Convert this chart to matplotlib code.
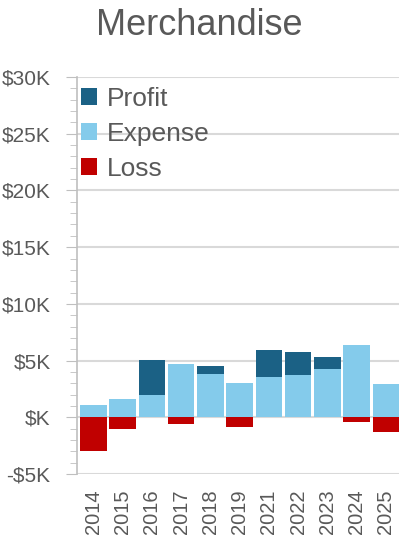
import numpy as np
import matplotlib.pyplot as plt
from matplotlib.ticker import MultipleLocator, FuncFormatter

### Data (thousands of dollars) ###
years = ['2014', '2015', '2016', '2017', '2018', '2019', '2021', '2022', '2023', '2024', '2025']
expense = [1.05, 1.6, 1.95, 4.7, 3.8, 3.0, 3.6, 3.7, 4.3, 6.35, 2.9]
profit = [0, 0, 3.1, 0, 0.7, 0, 2.3, 2.1, 1.0, 0, 0]
loss = [3.0, 1.05, 0, 0.6, 0, 0.85, 0, 0, 0, 0.45, 1.25]

### Style ###
TEXT = '#595959'
plt.rcParams['font.family'] = ['Liberation Sans', 'DejaVu Sans']


def money(v, pos):
    if abs(v) < 1e-9:
        return '$K'
    if v < 0:
        return f'-${-v:.0f}K'
    return f'${v:.0f}K'


fig = plt.figure(figsize=(3.99, 5.5), dpi=100)
ax = fig.add_axes([0.193, 0.138, 0.807, 0.722])

x = np.arange(len(years))
w = 0.9
ax.bar(x, profit, w, bottom=expense, color='#1b6185', label='Profit', zorder=3)
ax.bar(x, expense, w, color='#84cbeb', label='Expense', zorder=3)
ax.bar(x, [-v for v in loss], w, color='#c00000', label='Loss', zorder=3)

ax.set_xlim(-0.56, len(years) - 0.55)
ax.set_ylim(-5, 30)
ax.yaxis.set_major_locator(MultipleLocator(5))
ax.yaxis.set_minor_locator(MultipleLocator(1))
ax.yaxis.set_major_formatter(FuncFormatter(money))
ax.grid(axis='y', color='#d9d9d9', linewidth=1.5, zorder=0)

ax.set_xticks(x)
ax.set_xticklabels(years, rotation=90)
ax.tick_params(axis='x', length=0, pad=11, labelsize=14.5, labelcolor=TEXT)
ax.tick_params(axis='y', which='major', length=8, color='#bfbfbf', labelsize=15, labelcolor=TEXT, pad=11)
ax.tick_params(axis='y', which='minor', length=5, color='#bfbfbf')

for s in ['top', 'right', 'bottom']:
    ax.spines[s].set_visible(False)
ax.spines['left'].set_color('#bfbfbf')
ax.spines['left'].set_linewidth(1.2)

fig.suptitle('Merchandise', x=0.5, y=0.985, fontsize=26, color=TEXT)

leg = ax.legend(loc='upper left', frameon=False, fontsize=19, labelcolor=TEXT,
                handlelength=0.6, handleheight=0.6, handletextpad=0.4,
                borderaxespad=0.0, borderpad=0.15, labelspacing=0.42,
                bbox_to_anchor=(0.0, 0.985))

fig.savefig('out.png', dpi=100)
